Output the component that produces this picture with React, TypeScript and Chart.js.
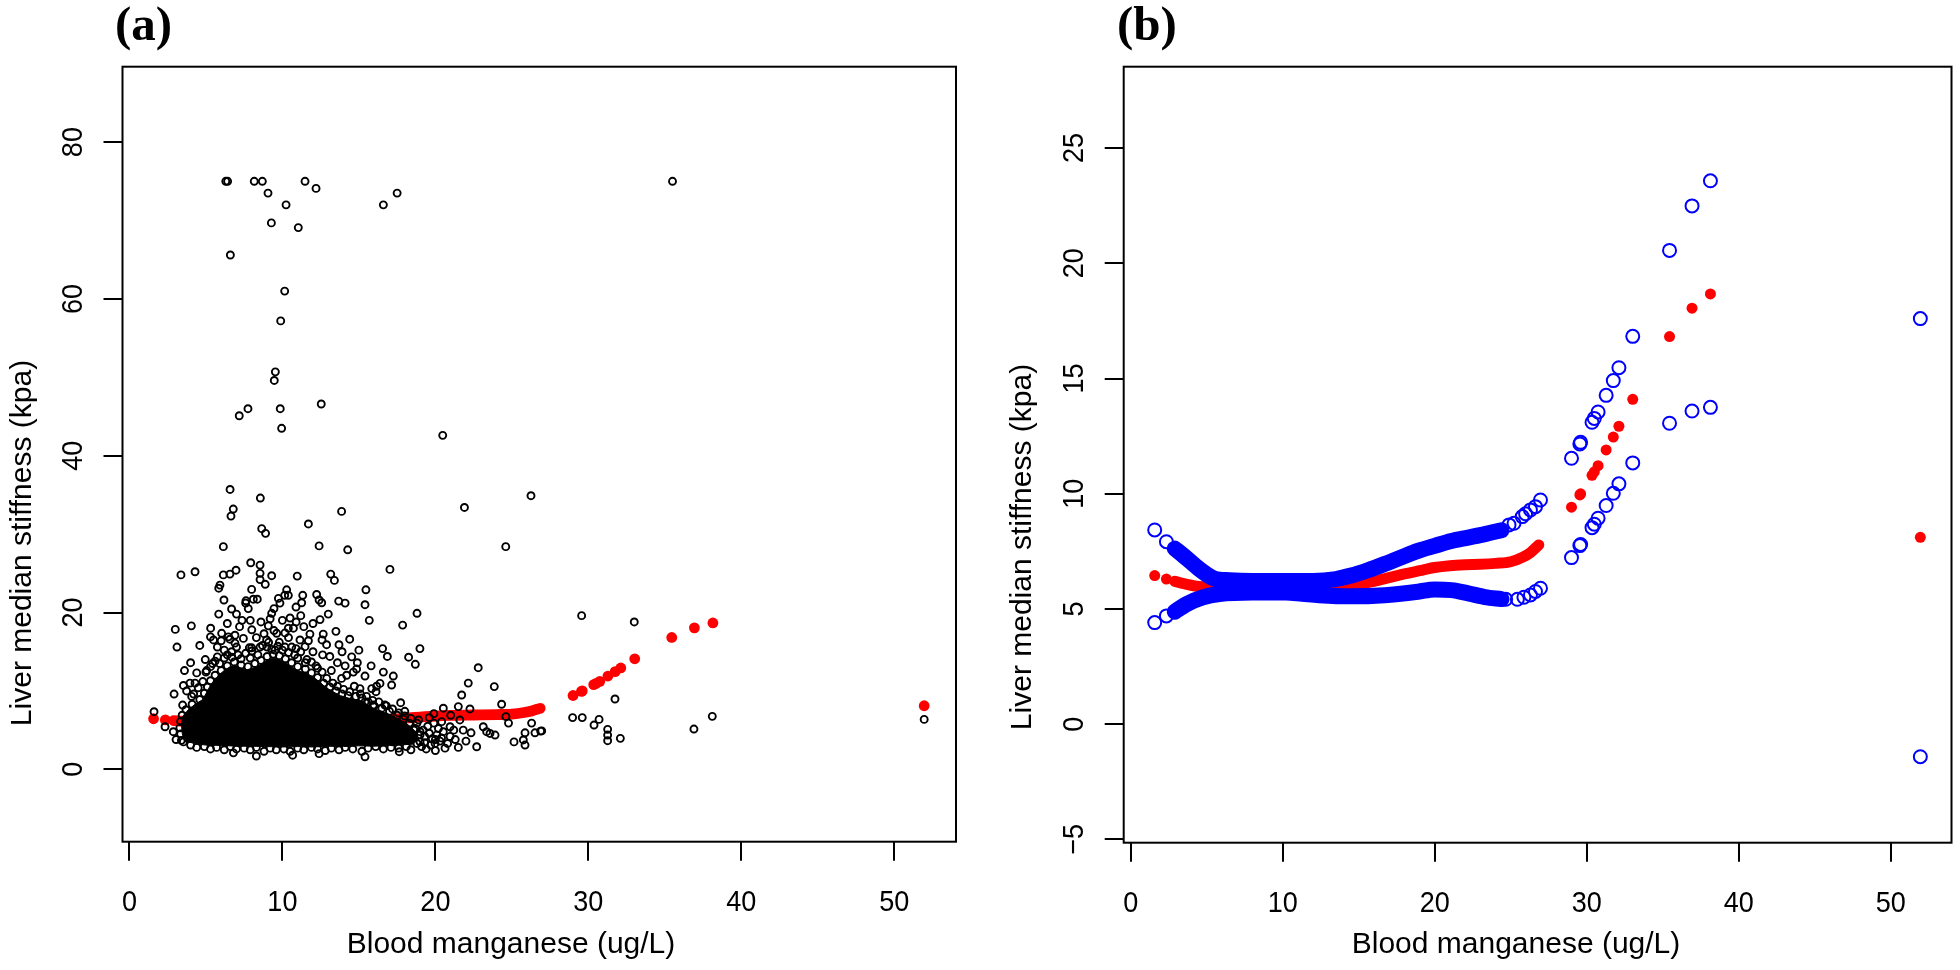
import React, { useEffect, useRef } from "react";
import { Chart, registerables } from "chart.js";

Chart.register(...registerables);

// ---------------- data ----------------
const xTicks = [0, 10, 20, 30, 40, 50];
const yTicksA = [0, 20, 40, 60, 80];
const yTicksB = [-5, 0, 5, 10, 15, 20, 25];
const yTickLabelsB = ["\u22125", "0", "5", "10", "15", "20", "25"];

const xTitle = "Blood manganese (ug/L)";
const yTitle = "Liver median stiffness (kpa)";

// fitted curve where the many manganese values overlap into a band
const fitBandX = [2.9, 3.5, 4.5, 6, 8, 10, 12, 14, 15, 16, 17, 18, 19, 20, 21, 22, 23, 24, 25, 25.8, 26.3, 26.85];
const fitBandY = [6.2, 6.1, 5.98, 5.95, 5.95, 5.98, 5.98, 6.0, 6.08, 6.2, 6.36, 6.52, 6.66, 6.8, 6.88, 6.92, 6.94, 6.98, 7.05, 7.25, 7.45, 7.78];

// confidence limits, dense band part
const upperBandX = [2.9, 3.5, 4.3, 5.0, 5.5, 6.5, 8, 10, 12, 13.5, 14.5, 15.6, 16.7, 17.8, 18.9, 20, 21.1, 22.2, 23.3, 24.4];
const upperBandY = [7.62, 7.3, 6.85, 6.5, 6.32, 6.25, 6.22, 6.22, 6.22, 6.3, 6.45, 6.68, 6.95, 7.24, 7.52, 7.74, 7.95, 8.1, 8.25, 8.42];
const lowerBandX = [2.9, 3.65, 4.74, 5.83, 8, 10.2, 11.3, 12.4, 14.5, 16.7, 18.9, 20, 21.1, 22.2, 23.3, 24.4];
const lowerBandY = [4.88, 5.2, 5.5, 5.65, 5.72, 5.72, 5.66, 5.6, 5.55, 5.6, 5.75, 5.85, 5.82, 5.68, 5.52, 5.43];

// confidence limits, separated circles at the end of the band
const upperEndX = [24.89, 25.22, 25.76, 25.98, 26.3, 26.63, 26.96];
const upperEndY = [8.65, 8.72, 9.01, 9.13, 9.3, 9.44, 9.73];
const lowerEndX = [24.67, 25.44, 25.87, 26.3, 26.63, 26.96];
const lowerEndY = [5.42, 5.42, 5.51, 5.61, 5.76, 5.9];

// isolated manganese values: fit, upper and lower limits
const sparseX = [1.58, 2.35, 29.0, 29.55, 29.6, 30.35, 30.5, 30.75, 31.28, 31.75, 32.12, 33.03, 35.45, 36.93, 38.14, 51.95];
const sparseFit = [6.45, 6.3, 9.42, 9.95, 10.0, 10.8, 10.95, 11.22, 11.9, 12.46, 12.93, 14.1, 16.82, 18.05, 18.67, 8.11];
const sparseUpper = [8.43, 7.92, 11.54, 12.16, 12.23, 13.1, 13.27, 13.55, 14.27, 14.91, 15.47, 16.83, 20.56, 22.49, 23.58, 17.6];
const sparseLower = [4.41, 4.7, 7.23, 7.75, 7.8, 8.53, 8.68, 8.94, 9.49, 10.02, 10.43, 11.34, 13.06, 13.59, 13.75, -1.41];

// panel (a): solid core of the observation cloud (outline)
const cloudCore: [number, number][] = [
  [3.6, 3.5], [3.45, 4.6], [3.4, 5.8], [3.5, 6.8], [3.85, 7.6], [4.3, 8.3], [4.8, 8.9], [5.1, 10.0], [5.35, 10.9],
  [5.7, 11.7], [6.0, 12.3], [6.5, 13.0], [6.9, 13.3], [7.3, 12.9], [7.7, 12.7], [8.2, 13.0], [8.6, 13.4], [9.0, 13.9],
  [9.4, 14.2], [9.8, 14.0], [10.2, 13.6], [10.6, 13.1], [11.0, 12.6], [11.5, 12.3], [12.0, 11.8], [12.4, 11.2],
  [12.8, 10.5], [13.3, 9.9], [13.8, 9.4], [14.3, 9.1], [14.8, 8.9], [15.2, 8.7], [15.6, 8.2], [16.0, 7.7], [16.5, 7.4],
  [17.0, 7.0], [17.5, 6.5], [18.0, 6.0], [18.4, 5.4], [18.8, 4.6], [18.9, 3.8], [18.5, 3.2], [17.0, 3.05], [16.0, 2.95],
  [15.0, 3.0], [14.0, 2.9], [13.0, 2.95], [12.0, 2.85], [11.0, 2.9], [10.0, 2.85], [9.0, 2.9], [8.0, 2.95], [7.0, 2.95],
  [6.0, 3.05], [5.0, 3.1], [4.3, 3.25],
];

// panel (a): observations on the rim of the cloud
const cloudRim: [number, number][] = [
  [3.4, 3.7], [3.35, 4.5], [3.3, 5.3], [3.35, 6.1], [3.45, 6.9], [3.7, 7.6], [4.1, 8.3], [4.6, 8.9], [4.9, 9.7],
  [5.1, 10.5], [5.3, 11.3], [5.6, 12.0], [6.0, 12.6], [6.4, 13.2], [6.85, 13.7], [7.3, 13.3], [7.75, 13.1], [8.2, 13.5],
  [8.6, 13.9], [9.0, 14.4], [9.4, 14.7], [9.8, 14.5], [10.2, 14.1], [10.6, 13.6], [11.0, 13.1], [11.5, 12.8], [11.9, 12.3],
  [12.3, 11.7], [12.7, 11.0], [13.1, 10.5], [13.5, 10.0], [13.9, 9.6], [14.3, 9.4], [14.8, 9.3], [15.2, 9.1], [15.6, 8.6],
  [16.0, 8.1], [16.5, 7.8], [17.0, 7.4], [17.5, 6.9], [17.9, 6.4], [18.3, 5.9], [18.7, 5.2], [19.0, 4.4], [19.0, 3.5],
  [18.1, 2.9], [17.6, 2.7], [17.1, 2.8], [16.6, 2.6], [16.1, 2.9], [15.6, 2.7], [15.2, 2.3], [14.6, 2.6], [14.1, 2.8],
  [13.7, 2.5], [13.2, 2.7], [12.8, 2.4], [12.3, 2.6], [11.9, 2.8], [11.4, 2.5], [11.0, 2.7], [10.5, 2.3], [10.1, 2.6],
  [9.6, 2.5], [9.2, 2.7], [8.8, 2.3], [8.3, 2.8], [7.9, 2.5], [7.5, 2.7], [7.0, 2.6], [6.6, 2.9], [6.2, 2.5], [5.7, 2.8],
  [5.3, 2.6], [4.9, 2.9], [4.4, 2.8], [4.0, 3.1], [8.3, 1.7], [10.67, 1.8], [15.4, 1.6], [12.4, 2.0], [6.8, 2.1],
];

// panel (a): observations just above the solid cloud
const cloudFringe: [number, number][] = [
  [4.2, 9.6], [4.5, 10.4], [4.8, 11.2], [5.0, 12.4], [5.3, 13.1], [5.6, 13.8], [5.9, 13.5], [6.2, 15.2], [6.4, 14.6],
  [6.7, 14.3], [7.0, 15.6], [7.3, 14.1], [7.6, 14.8], [8.0, 15.1], [8.4, 14.6], [8.7, 15.8], [9.1, 16.2], [9.3, 15.3],
  [9.7, 15.7], [10.0, 15.2], [10.4, 14.9], [10.8, 14.6], [11.2, 15.0], [11.5, 13.6], [11.9, 13.7], [12.3, 12.9],
  [12.6, 12.4], [12.9, 11.6], [13.3, 11.0], [13.6, 10.6], [14.0, 10.2], [14.4, 9.9], [14.7, 10.6], [15.1, 9.6],
  [15.5, 9.3], [15.9, 8.8], [16.3, 8.6], [16.8, 8.1], [17.2, 7.7], [17.6, 7.2], [18.0, 7.4], [18.4, 6.5], [18.8, 5.9],
  [19.2, 5.0], [19.6, 4.6], [20.0, 3.8], [19.7, 3.1], [20.3, 3.6], [6.4, 18.6], [7.0, 19.8], [7.9, 19.0], [8.6, 18.8],
  [9.3, 19.9], [10.0, 19.0], [10.9, 18.8], [11.4, 18.2], [6.0, 16.4], [5.3, 16.9], [8.8, 17.3], [11.7, 16.4],
  [13.1, 14.4], [14.1, 13.2], [13.9, 15.0], [19.0, 4.8], [19.9, 5.9], [20.4, 4.0], [20.8, 3.3], [21.2, 5.0],
  [19.3, 3.4], [18.4, 2.5], [20.0, 2.4], [21.5, 2.8],
];

// panel (a): scattered observations above / around the cloud
const cloudScatter: [number, number][] = [
  [3.37, 24.8], [4.29, 25.2], [5.92, 23.5], [6.14, 24.8], [6.57, 24.9], [6.97, 25.4], [5.84, 23.1], [7.93, 26.35],
  [8.54, 26.05], [8.54, 25.0], [8.54, 24.2], [8.88, 23.6], [9.3, 24.7], [10.97, 24.65], [13.16, 24.9], [13.4, 24.1],
  [17.03, 25.5], [15.46, 22.9], [15.4, 21.0], [15.68, 19.0], [18.8, 19.9], [17.86, 18.4], [18.99, 15.4], [18.25, 14.3],
  [18.69, 13.4], [16.55, 15.4], [16.86, 14.4], [22.8, 12.96], [22.15, 11.0], [23.85, 10.55], [21.72, 9.48], [22.26, 7.7],
  [24.33, 8.3], [24.61, 6.72], [24.78, 5.9], [26.29, 5.9], [26.88, 4.88], [26.51, 4.66], [25.86, 4.66], [25.75, 3.75],
  [25.86, 3.1], [25.14, 3.5], [22.7, 2.88], [23.13, 5.43], [23.57, 4.58], [23.9, 4.37], [23.35, 4.8], [22.33, 4.66],
  [21.82, 5.0], [21.5, 8.0], [20.52, 7.8], [19.9, 7.1], [20.41, 6.08], [20.96, 5.43], [20.52, 4.8], [20.96, 4.2],
  [20.63, 2.7], [19.98, 3.3], [19.1, 2.9], [18.34, 3.75], [17.64, 2.25], [17.73, 8.5], [17.25, 11.9], [17.14, 10.75],
  [16.38, 10.96], [16.12, 9.9], [15.84, 10.3], [16.16, 10.6], [15.4, 11.9], [14.85, 12.8], [14.9, 13.6], [14.53, 14.35],
  [14.64, 12.4], [15.4, 8.6], [16.7, 8.2], [15.94, 8.2], [15.07, 10.3], [14.2, 12.0], [13.87, 11.6], [12.59, 16.5],
  [12.46, 19.1], [12.67, 17.25], [12.89, 15.9], [12.63, 14.6], [13.5, 17.6], [13.7, 15.9], [13.68, 21.46], [14.1, 21.2],
  [12.24, 22.3], [12.57, 21.25], [12.4, 21.6], [11.33, 22.2], [11.26, 21.25], [10.89, 20.7], [10.5, 19.3], [10.72, 18.0],
  [10.39, 18.0], [10.17, 17.4], [9.63, 17.35], [10.28, 22.9], [10.15, 22.2], [9.84, 21.2], [10.39, 22.2], [9.74, 21.8],
  [9.45, 20.5], [9.08, 18.3], [9.45, 17.7], [11.8, 17.25], [11.48, 15.65], [11.15, 16.5], [10.89, 15.4], [10.61, 15.6],
  [10.17, 15.6], [9.52, 15.2], [8.97, 16.5], [8.54, 15.6], [7.99, 15.5], [7.84, 15.5], [7.45, 16.7], [6.9, 17.1],
  [6.9, 16.1], [6.57, 16.6], [6.47, 16.9], [6.68, 15.0], [6.03, 17.35], [5.75, 15.6], [5.31, 18.0], [4.05, 18.3],
  [3.0, 17.85], [3.11, 15.6], [5.84, 19.8], [6.18, 21.6], [6.68, 20.45], [7.36, 19.0], [7.6, 21.2], [7.77, 20.5],
  [7.99, 22.95], [8.1, 21.7], [8.36, 21.7], [7.62, 21.5], [4.96, 14.0], [5.75, 14.35], [5.44, 13.5], [5.05, 12.6],
  [4.4, 12.3], [4.29, 11.0], [3.53, 10.7], [3.96, 11.0], [3.74, 10.0], [4.07, 9.3], [2.92, 9.6], [3.48, 8.2],
  [1.61, 7.35], [2.33, 5.43], [2.87, 4.8], [3.05, 3.8], [3.53, 3.5],
  [7.1, 14.6], [7.9, 14.2], [8.3, 16.8], [9.0, 15.6], [9.8, 16.2], [10.4, 16.8], [11.0, 14.2], [11.6, 14.0],
  [12.2, 13.2], [12.0, 15.0], [13.2, 12.6], [13.6, 13.6], [8.0, 17.8], [7.2, 18.2], [6.2, 14.2], [5.5, 16.5],
  [9.2, 19.2], [11.2, 19.6], [12.0, 18.6], [13.0, 19.8], [14.4, 16.6], [15.0, 15.2], [15.8, 13.2], [16.6, 12.4],
  [4.6, 15.8], [4.0, 13.6], [3.6, 12.6],
  [17.2, 3.5], [17.5, 4.4], [17.9, 5.2], [18.2, 4.0], [18.6, 5.0], [18.9, 6.3], [19.3, 4.2], [19.5, 5.5], [19.8, 3.9],
  [20.2, 5.2], [19.6, 6.6], [18.0, 6.8], [17.4, 6.0], [20.1, 4.4], [19.4, 2.6], [18.8, 3.3], [21.3, 3.8], [21.6, 6.3],
  [21.0, 6.9], [22.0, 3.6],
];

// panel (a): high stiffness values
const highPoints: [number, number][] = [
  [6.3, 75], [6.42, 75], [8.16, 75], [8.69, 75], [11.48, 75], [12.2, 74.1], [9.06, 73.5], [10.24, 72.0], [9.28, 69.7],
  [11.04, 69.1], [16.6, 72.0], [17.5, 73.5], [35.5, 75], [6.6, 65.6], [10.15, 61.0], [9.89, 57.2], [9.54, 50.7],
  [9.47, 49.6], [7.75, 46.0], [7.18, 45.1], [9.86, 46.0], [12.54, 46.6], [9.95, 43.5], [20.48, 42.6], [6.58, 35.7],
  [8.56, 34.6], [6.79, 33.2], [6.64, 32.3], [13.87, 32.9], [11.7, 31.3], [8.65, 30.7], [8.9, 30.1], [21.9, 33.4],
  [26.25, 34.9], [24.6, 28.4], [6.14, 28.4], [12.4, 28.5], [14.27, 28.0],
];

// panel (a): observations at high manganese
const tailPoints: [number, number][] = [
  [26.95, 4.9], [28.97, 6.6], [29.6, 6.6], [30.37, 5.65], [30.7, 6.37], [31.26, 5.1], [31.26, 4.37], [31.26, 3.65],
  [32.09, 3.95], [36.9, 5.14], [38.1, 6.76], [51.95, 6.37], [29.56, 19.6], [33.0, 18.8], [31.74, 8.97],
];

// ---------------- helpers ----------------
const zip = (xs: number[], ys: number[]) => xs.map((x, i) => ({ x, y: ys[i] }));
const pairs = (p: [number, number][]) => p.map(([x, y]) => ({ x, y }));

const SANS = '"Liberation Sans", Arial, Helvetica, sans-serif';
const SERIF = '"Liberation Serif", "Times New Roman", serif';

type Deco = {
  panel: string;
  panelX: number;
  yTicks: number[];
  yLabels: string[];
  yTitleX: number;
  yTitleY: number;
  xTitleX: number;
};

function decoPlugin(d: Deco) {
  return {
    id: "deco",
    afterDraw(chart: any) {
      const ctx: CanvasRenderingContext2D = chart.ctx;
      const a = chart.chartArea;
      const xs = chart.scales.x;
      const ys = chart.scales.y;
      ctx.save();
      ctx.strokeStyle = "#000";
      ctx.lineWidth = 2;
      ctx.strokeRect(a.left, a.top, a.right - a.left, a.bottom - a.top);
      ctx.fillStyle = "#000";
      ctx.textAlign = "center";
      ctx.textBaseline = "alphabetic";
      ctx.font = `30px ${SANS}`;
      xTicks.forEach((v) => {
        ctx.save();
        ctx.translate(xs.getPixelForValue(v), a.bottom + 69);
        ctx.scale(0.9, 1);
        ctx.fillText(String(v), 0, 0);
        ctx.restore();
      });
      d.yTicks.forEach((v, i) => {
        ctx.save();
        ctx.translate(a.left - 41, ys.getPixelForValue(v));
        ctx.rotate(-Math.PI / 2);
        ctx.scale(0.9, 1);
        ctx.fillText(d.yLabels[i], 0, 0);
        ctx.restore();
      });
      ctx.font = `30px ${SANS}`;
      ctx.fillText(xTitle, d.xTitleX, 953);
      ctx.save();
      ctx.translate(d.yTitleX, d.yTitleY);
      ctx.rotate(-Math.PI / 2);
      ctx.fillText(yTitle, 0, 0);
      ctx.restore();
      ctx.textAlign = "left";
      ctx.font = `bold 49px ${SERIF}`;
      ctx.fillText(d.panel, d.panelX, 40);
      ctx.restore();
    },
  };
}

function makeOptions(
  xMin: number, xMax: number, yMin: number, yMax: number, yTicks: number[],
  padding: any, yWidth: number, xHeight: number
) {
  const grid = { display: true, drawOnChartArea: false, drawTicks: true, tickLength: 19, color: "#000", lineWidth: 2 };
  return {
    responsive: false,
    maintainAspectRatio: false,
    animation: false,
    devicePixelRatio: 1,
    events: [],
    layout: { padding },
    plugins: { legend: { display: false }, tooltip: { enabled: false } },
    scales: {
      x: {
        type: "linear", position: "bottom", min: xMin, max: xMax,
        afterBuildTicks: (s: any) => { s.ticks = xTicks.map((v) => ({ value: v })); },
        afterFit: (s: any) => { s.height = xHeight; },
        grid, border: { display: false }, ticks: { display: false },
      },
      y: {
        type: "linear", position: "left", min: yMin, max: yMax,
        afterBuildTicks: (s: any) => { s.ticks = yTicks.map((v) => ({ value: v })); },
        afterFit: (s: any) => { s.width = yWidth; },
        grid, border: { display: false }, ticks: { display: false },
      },
    },
  };
}

const hollow = (color: string, r: number, w: number) => ({
  showLine: false, pointStyle: "circle", pointRadius: r, pointBorderWidth: w,
  pointBorderColor: color, pointBackgroundColor: "rgba(0,0,0,0)", pointHoverRadius: r,
});
const solid = (color: string, r: number) => ({
  showLine: false, pointStyle: "circle", pointRadius: r, pointBorderWidth: 0,
  pointBorderColor: color, pointBackgroundColor: color, pointHoverRadius: r,
});
const band = (color: string, w: number) => ({
  showLine: true, borderColor: color, borderWidth: w, pointRadius: 0, fill: false,
  cubicInterpolationMode: "monotone", borderCapStyle: "round", borderJoinStyle: "round",
});

function configA() {
  return {
    type: "line",
    data: {
      datasets: [
        { data: pairs(cloudScatter), ...hollow("#000", 3.5, 1.9), order: 0 },
        { data: pairs(cloudFringe), ...hollow("#000", 3.5, 1.9), order: 0 },
        { data: pairs(cloudRim), ...hollow("#000", 3.5, 1.9), order: 0 },
        { data: pairs(highPoints), ...hollow("#000", 3.5, 1.9), order: 0 },
        { data: pairs(tailPoints), ...hollow("#000", 3.5, 1.9), order: 0 },
        {
          data: pairs(cloudCore), showLine: true, fill: "shape", backgroundColor: "#000",
          borderColor: "#000", borderWidth: 1, pointRadius: 0, tension: 0, order: 1,
        },
        { data: zip(sparseX, sparseFit), ...solid("#ff0000", 5.4), order: 2 },
        { data: zip(fitBandX, fitBandY), ...band("#ff0000", 10.8), order: 3 },
      ],
    },
    options: makeOptions(-0.451, 54.03, -9.23, 89.62, yTicksA, { left: 0, top: 66.7, right: 24, bottom: 0 }, 122.5, 128.3),
    plugins: [
      decoPlugin({
        panel: "(a)", panelX: 115, yTicks: yTicksA, yLabels: yTicksA.map(String),
        yTitleX: 31, yTitleY: 543, xTitleX: 511,
      }),
    ],
  };
}

function configB() {
  return {
    type: "line",
    data: {
      datasets: [
        { data: zip(sparseX, sparseUpper), ...hollow("#0000ff", 6.5, 2), order: 0 },
        { data: zip(sparseX, sparseLower), ...hollow("#0000ff", 6.5, 2), order: 0 },
        { data: zip(upperEndX, upperEndY), ...hollow("#0000ff", 6.5, 2), order: 0 },
        { data: zip(lowerEndX, lowerEndY), ...hollow("#0000ff", 6.5, 2), order: 0 },
        { data: zip(upperBandX, upperBandY), ...band("#0000ff", 16), order: 1 },
        { data: zip(lowerBandX, lowerBandY), ...band("#0000ff", 16), order: 1 },
        { data: zip(sparseX, sparseFit), ...solid("#ff0000", 5.5), order: 2 },
        { data: zip(fitBandX, fitBandY), ...band("#ff0000", 11), order: 3 },
      ],
    },
    options: makeOptions(-0.46, 54.0, -5.14, 28.53, yTicksB, { left: 0, top: 66.7, right: 3, bottom: 0 }, 143.7, 127.3),
    plugins: [
      decoPlugin({
        panel: "(b)", panelX: 137, yTicks: yTicksB, yLabels: yTickLabelsB,
        yTitleX: 51, yTitleY: 547, xTitleX: 536,
      }),
    ],
  };
}

function Panel({ make, left }: { make: () => any; left: number }) {
  const ref = useRef<HTMLCanvasElement>(null);
  useEffect(() => {
    if (!ref.current) return;
    const chart = new Chart(ref.current, make());
    return () => chart.destroy();
  }, [make]);
  return (
    <canvas
      ref={ref}
      width={980}
      height={970}
      style={{ position: "absolute", left, top: 0, width: 980, height: 970, display: "block" }}
    />
  );
}

export default function App() {
  return (
    <div style={{ position: "absolute", left: 0, top: 0, width: 1960, height: 970, background: "#ffffff", overflow: "hidden" }}>
      <Panel make={configA} left={0} />
      <Panel make={configB} left={980} />
    </div>
  );
}
